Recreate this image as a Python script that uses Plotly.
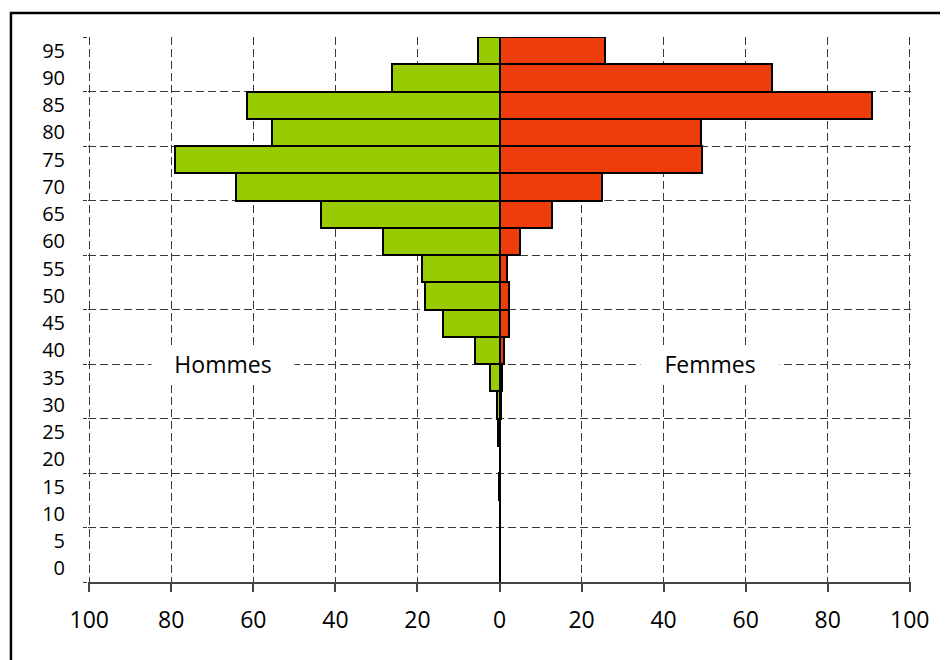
import plotly.graph_objects as go

# tranches d'age (borne basse) et effectifs
ages = [0, 5, 10, 15, 20, 25, 30, 35, 40, 45, 50, 55, 60, 65, 70, 75, 80, 85, 90, 95]
hommes = [0, 0, 0, 0.2, 0, 0.4, 0.7, 2.3, 5.9, 13.7, 18.1, 18.9, 28.3, 43.4, 64.3, 79.1, 55.4, 61.6, 26.2, 5.2]
femmes = [0, 0, 0, 0, 0, 0.1, 0.25, 0.65, 1.2, 2.2, 2.3, 1.9, 4.9, 12.9, 25.1, 49.3, 49.1, 90.9, 66.3, 25.7]
x_ticks = [-100, -80, -60, -40, -20, 0, 20, 40, 60, 80, 100]

green = "#99cc00"
red = "#ee3d0a"
grid_color = "#3a3a3a"
font = "Open Sans"

fig = go.Figure()
fig.add_trace(go.Bar(y=ages, x=[-v for v in hommes], orientation="h", width=5,
                     marker=dict(color=green, line=dict(color="black", width=2)),
                     name="Hommes"))
fig.add_trace(go.Bar(y=ages, x=femmes, orientation="h", width=5,
                     marker=dict(color=red, line=dict(color="black", width=2)),
                     name="Femmes"))

# invisible trace for the horizontal grid axis
fig.add_trace(go.Scatter(x=[None], y=[None], yaxis="y2", showlegend=False))

fig.update_layout(
    width=948, height=660,
    margin=dict(l=80, r=45, t=29, b=86),
    barmode="overlay", bargap=0,
    showlegend=False,
    plot_bgcolor="white", paper_bgcolor="white",
    font=dict(family=font, size=23, color="black"),
    xaxis=dict(range=[-100.3, 100.3], tickvals=x_ticks, ticktext=[str(abs(v)) for v in x_ticks],
               showgrid=True, gridcolor=grid_color, gridwidth=1, griddash="8px,4px",
               zeroline=True, zerolinecolor="black", zerolinewidth=1,
               showline=True, linecolor="#444", linewidth=1.5,
               ticks="outside", ticklen=8, tickcolor="#444", tickwidth=1.5,
               ticklabelstandoff=9, automargin=False),
    yaxis=dict(range=[-2.5, 97.5], tickvals=ages, ticktext=[str(a) for a in ages],
               tickfont=dict(size=20),
               showgrid=False, zeroline=False, showline=False, ticks="",
               ticklabelstandoff=22, automargin=False),
    yaxis2=dict(range=[-2.5, 97.6], overlaying="y", side="left", tick0=-2.5, dtick=10,
                showticklabels=False, showgrid=True, gridcolor=grid_color, gridwidth=1,
                griddash="8px,4px", zeroline=False, showline=False,
                ticks="outside", ticklen=4, tickcolor=grid_color, automargin=False),
    annotations=[
        dict(x=-67.5, y=37.5, xref="x", yref="y", text="Hommes", showarrow=False,
             bgcolor="white", width=140, height=32),
        dict(x=51.4, y=37.5, xref="x", yref="y", text="Femmes", showarrow=False,
             bgcolor="white", width=136, height=32),
    ],
    shapes=[
        dict(type="rect", xref="paper", yref="paper", x0=-0.0936, x1=1.2, y0=-0.4, y1=1.044,
             line=dict(color="black", width=2.5), layer="below"),
    ],
)

fig.write_html("out.html")
